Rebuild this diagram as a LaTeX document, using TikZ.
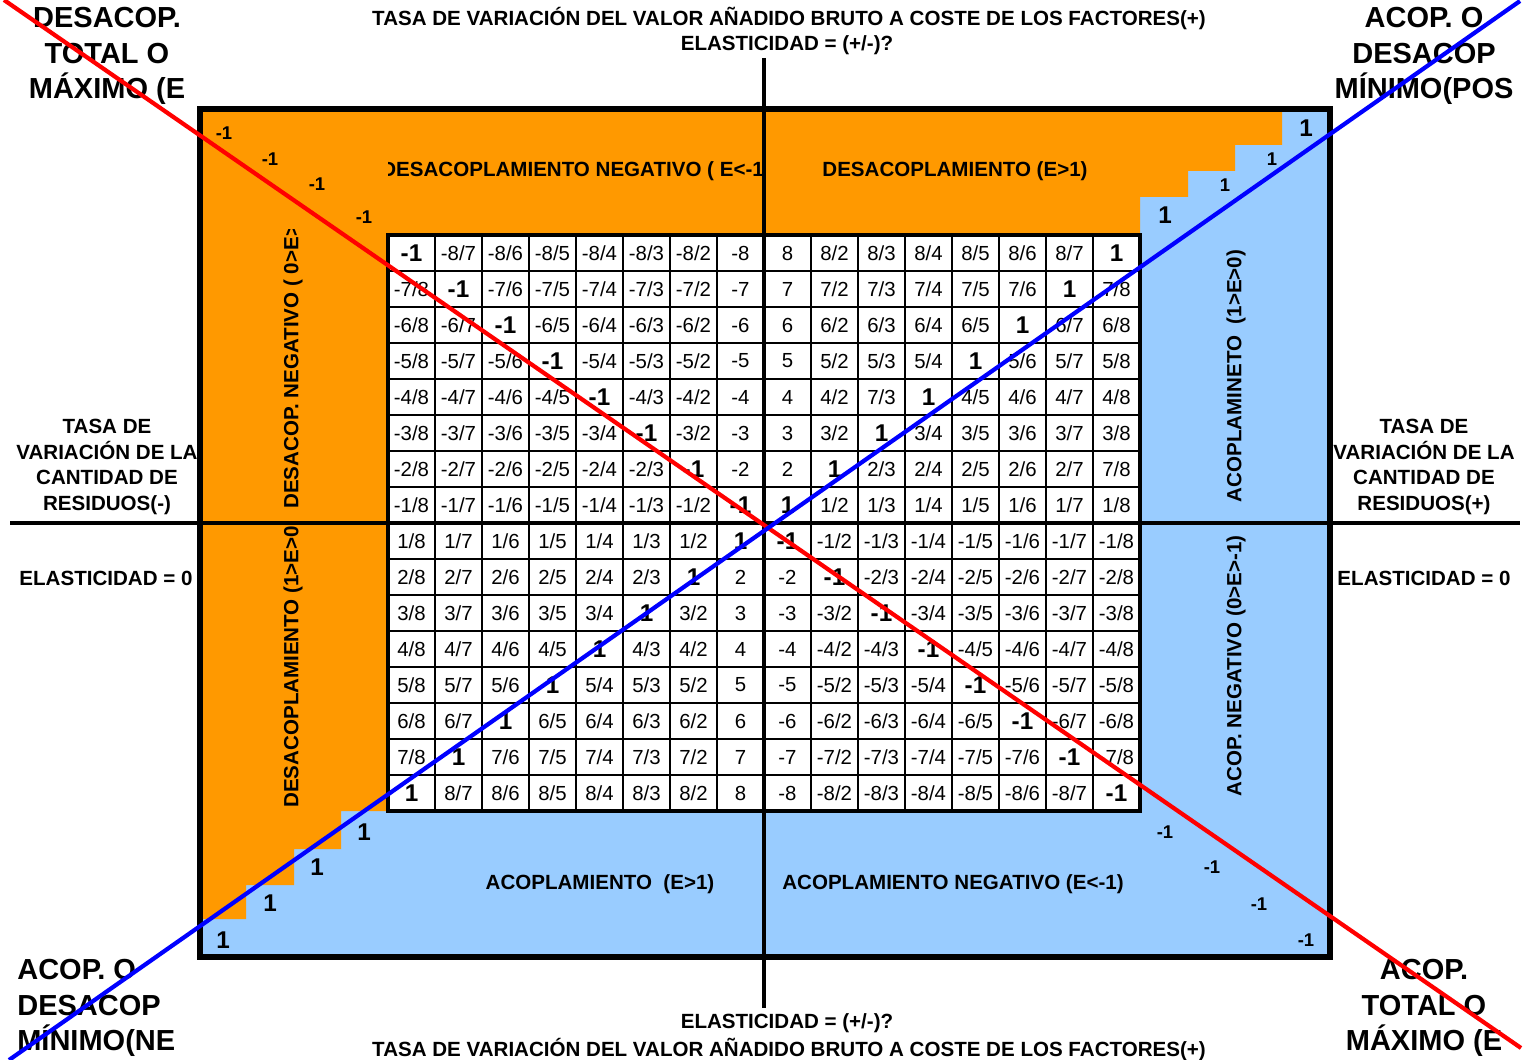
\documentclass[tikz,border=0pt]{standalone}
\usepackage{fontspec}
\setmainfont{Liberation Sans}
\usepackage{tikz}
\usetikzlibrary{positioning}
\definecolor{excelorange}{HTML}{FF9900}
\definecolor{excelblue}{HTML}{99CCFF}
\newcommand\dg[1]{{\fontsize{13.8}{14}\selectfont\bfseries #1}}

\begin{document}
\begin{tikzpicture}[x=0.02cm,y=-0.02cm,
  lbl/.style={font=\fontsize{11.7}{14.7}\selectfont\bfseries,align=center,inner sep=0pt},
  corner/.style={font=\fontsize{16.5}{20.4}\selectfont\bfseries,align=center,inner sep=0pt},
  cell/.style={font=\fontsize{11.6}{12}\selectfont,inner sep=0pt},
  small/.style={font=\fontsize{10.5}{11}\selectfont\bfseries,inner sep=0pt},
  big/.style={font=\fontsize{13.8}{14}\selectfont\bfseries,inner sep=0pt}]
  \useasboundingbox (0,0) rectangle (1525,1060);
  \fill[excelblue] (200,109) rectangle (1330,957);
  \fill[excelorange] (200,109) -- (1282,109) -- (1282,145) -- (1235,145) -- (1235,171)
    -- (1188,171) -- (1188,197) -- (1140,197) -- (1140,811) -- (341,811) -- (341,849)
    -- (294,849) -- (294,885) -- (246,885) -- (246,919) -- (200,919) -- cycle;
  \begin{scope}
    \clip (388,112) rectangle (762,233);
    \node[lbl] (negtop) at (576,171) {DESACOPLAMIENTO NEGATIVO ( E<-1)};
  \end{scope}
  \begin{scope}
    \clip (250,230) rectangle (340,521);
    \node[lbl,rotate=90,anchor=west] (negleft) at (293,509) {DESACOP. NEGATIVO ( 0>E>-1)};
  \end{scope}
  \begin{scope}
    \clip (250,526) rectangle (340,811);
    \node[lbl,rotate=90,anchor=west] (desleft) at (293,808) {DESACOPLAMIENTO (1>E>0)};
  \end{scope}
  \node[lbl] (destop) at (955,171) {DESACOPLAMIENTO (E>1)};
  \node[lbl] (acopbot) at (600,884) {ACOPLAMIENTO \ (E>1)};
  \node[lbl] (negbot) at (953,884) {ACOPLAMIENTO NEGATIVO (E<-1)};
  \node[lbl,rotate=90] (acopright) at (1236,376) {ACOPLAMINETO \ (1>E>0)};
  \node[lbl,rotate=90] (negright) at (1236,666) {ACOP. NEGATIVO (0>E>-1)};

  \fill[white] (388,235) rectangle (1140,811);
  \foreach \i in {1,...,15} {
    \draw[line width=1.3pt] (388+47*\i,235) -- (388+47*\i,811);
    \draw[line width=1.3pt] (388,235+36*\i) -- (1140,235+36*\i);
  }
  \draw[line width=2.8pt] (388,235) rectangle (1140,811);
  \foreach \row [count=\r] in {
    {\dg{-1},-8/7,-8/6,-8/5,-8/4,-8/3,-8/2,-8,8,8/2,8/3,8/4,8/5,8/6,8/7,\dg{1}},
    {-7/8,\dg{-1},-7/6,-7/5,-7/4,-7/3,-7/2,-7,7,7/2,7/3,7/4,7/5,7/6,\dg{1},7/8},
    {-6/8,-6/7,\dg{-1},-6/5,-6/4,-6/3,-6/2,-6,6,6/2,6/3,6/4,6/5,\dg{1},6/7,6/8},
    {-5/8,-5/7,-5/6,\dg{-1},-5/4,-5/3,-5/2,-5,5,5/2,5/3,5/4,\dg{1},5/6,5/7,5/8},
    {-4/8,-4/7,-4/6,-4/5,\dg{-1},-4/3,-4/2,-4,4,4/2,7/3,\dg{1},4/5,4/6,4/7,4/8},
    {-3/8,-3/7,-3/6,-3/5,-3/4,\dg{-1},-3/2,-3,3,3/2,\dg{1},3/4,3/5,3/6,3/7,3/8},
    {-2/8,-2/7,-2/6,-2/5,-2/4,-2/3,\dg{-1},-2,2,\dg{1},2/3,2/4,2/5,2/6,2/7,7/8},
    {-1/8,-1/7,-1/6,-1/5,-1/4,-1/3,-1/2,\dg{-1},\dg{1},1/2,1/3,1/4,1/5,1/6,1/7,1/8},
    {1/8,1/7,1/6,1/5,1/4,1/3,1/2,\dg{1},\dg{-1},-1/2,-1/3,-1/4,-1/5,-1/6,-1/7,-1/8},
    {2/8,2/7,2/6,2/5,2/4,2/3,\dg{1},2,-2,\dg{-1},-2/3,-2/4,-2/5,-2/6,-2/7,-2/8},
    {3/8,3/7,3/6,3/5,3/4,\dg{1},3/2,3,-3,-3/2,\dg{-1},-3/4,-3/5,-3/6,-3/7,-3/8},
    {4/8,4/7,4/6,4/5,\dg{1},4/3,4/2,4,-4,-4/2,-4/3,\dg{-1},-4/5,-4/6,-4/7,-4/8},
    {5/8,5/7,5/6,\dg{1},5/4,5/3,5/2,5,-5,-5/2,-5/3,-5/4,\dg{-1},-5/6,-5/7,-5/8},
    {6/8,6/7,\dg{1},6/5,6/4,6/3,6/2,6,-6,-6/2,-6/3,-6/4,-6/5,\dg{-1},-6/7,-6/8},
    {7/8,\dg{1},7/6,7/5,7/4,7/3,7/2,7,-7,-7/2,-7/3,-7/4,-7/5,-7/6,\dg{-1},-7/8},
    {\dg{1},8/7,8/6,8/5,8/4,8/3,8/2,8,-8,-8/2,-8/3,-8/4,-8/5,-8/6,-8/7,\dg{-1}}}{
    \foreach \t [count=\c] in \row
      \node[cell] (c\r-\c) at (364.5+47*\c,217+36*\r) {\t};
  }

  \draw[line width=3.4pt] (200,109) rectangle (1330,957);
  \draw[line width=2.5pt] (764,58) -- (764,1008);
  \draw[line width=2.5pt] (10,523) -- (1520,523);

  \node[small] (tl1) at (224,133) {-1};
  \node[small] (tl2) at (270,159) {-1};
  \node[small] (tl3) at (317,184) {-1};
  \node[small] (tl4) at (364,217) {-1};
  \node[big] (tr1) at (1306,128) {1};
  \node[small] (tr2) at (1272,159) {1};
  \node[small] (tr3) at (1225,185) {1};
  \node[big] (tr4) at (1165,215) {1};
  \node[big] (bl1) at (364,832) {1};
  \node[big] (bl2) at (317,867) {1};
  \node[big] (bl3) at (270,903) {1};
  \node[big] (bl4) at (223,940) {1};
  \node[small] (br1) at (1165,832) {-1};
  \node[small] (br2) at (1212,867) {-1};
  \node[small] (br3) at (1259,904) {-1};
  \node[small] (br4) at (1306,940) {-1};

  \node[lbl] (toptitle) at (789,18) {TASA DE VARIACIÓN DEL VALOR AÑADIDO BRUTO A COSTE DE LOS FACTORES(+)};
  \node[lbl] (topelast) at (787,45) {ELASTICIDAD = (+/-)?};
  \node[lbl] (botelast) at (787,1023) {ELASTICIDAD = (+/-)?};
  \node[lbl] (bottitle) at (789,1049) {TASA DE VARIACIÓN DEL VALOR AÑADIDO BRUTO A COSTE DE LOS FACTORES(+)};
  \node[lbl] (leftres) at (107,467) {TASA DE\\VARIACIÓN DE LA\\CANTIDAD DE\\RESIDUOS(-)};
  \node[lbl] (rightres) at (1424,467) {TASA DE\\VARIACIÓN DE LA\\CANTIDAD DE\\RESIDUOS(+)};
  \node[lbl] (leftzero) at (106,578) {ELASTICIDAD = 0};
  \node[lbl] (rightzero) at (1424,578) {ELASTICIDAD = 0};
  \node[corner] (cornertl) at (107,56) {DESACOP.\\TOTAL O\\MÁXIMO (E};
  \node[corner] (cornertr) at (1424,56) {ACOP. O\\DESACOP\\MÍNIMO(POS};
  \node[corner,align=left,anchor=west] (cornerbl) at (17,1008) {ACOP. O\\DESACOP\\MÍNIMO(NE};
  \node[corner] (cornerbr) at (1424,1008) {ACOP.\\TOTAL O\\MÁXIMO (E};

  \draw[red,line width=2.4pt] (4,0) -- (1521,1048);
  \draw[blue,line width=2.4pt] (9,1060) -- (1520,1);
\end{tikzpicture}
\end{document}
